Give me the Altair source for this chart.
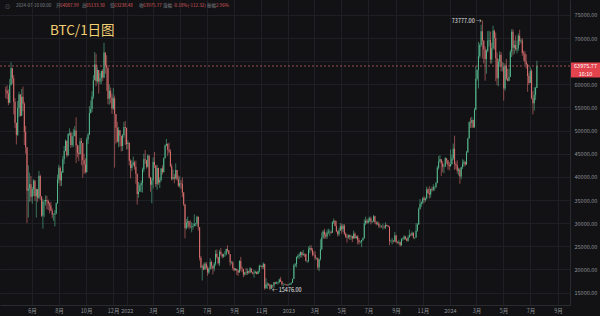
import altair as alt
import pandas as pd
import numpy as np

# ---- data (3-day candles, prices in thousands of USDT) ----
start_date = "2021-04-01"
first_open_k = 58.8
close_k = [
    58.7, 58.0, 56.0, 59.8, 63.5, 61.3, 56.2, 51.7, 49.1, 54.9,
    57.8, 53.2, 57.3, 55.8, 49.7, 46.4, 37.0, 37.5, 38.4, 35.7,
    37.3, 39.2, 35.8, 37.3, 35.5, 40.2, 35.8, 31.6, 34.7, 34.7,
    35.0, 34.8, 34.2, 33.8, 32.7, 31.8, 31.8, 32.1, 34.3, 39.5,
    42.0, 39.2, 40.9, 43.8, 45.6, 47.8, 44.7, 49.3, 49.5, 46.9,
    48.8, 48.8, 50.0, 46.8, 45.2, 44.9, 47.7, 47.3, 43.6, 42.7,
    41.0, 48.1, 49.1, 53.8, 54.7, 57.4, 60.9, 64.3, 60.7, 63.1,
    60.6, 61.3, 62.9, 61.5, 66.9, 64.2, 63.6, 56.9, 58.6, 57.2,
    54.8, 57.0, 53.6, 50.6, 47.6, 50.1, 48.9, 46.7, 49.0, 50.8,
    50.6, 47.1, 47.3, 43.5, 41.9, 42.7, 43.1, 42.2, 40.7, 36.3,
    36.8, 38.2, 38.7, 41.6, 43.8, 43.6, 42.2, 44.6, 40.0, 38.3,
    39.2, 43.2, 42.5, 38.4, 41.9, 38.8, 39.3, 41.8, 41.0, 44.0,
    46.8, 47.1, 45.8, 45.5, 42.3, 39.5, 39.9, 39.7, 41.5, 39.5,
    38.1, 38.6, 38.5, 36.6, 34.1, 28.9, 30.1, 30.4, 29.2, 29.1,
    29.2, 29.4, 29.8, 29.9, 31.4, 29.1, 22.5, 20.4, 20.6, 20.0,
    21.2, 20.3, 19.3, 20.2, 21.6, 20.8, 20.2, 21.2, 23.4, 22.7,
    21.3, 23.8, 23.3, 22.8, 23.2, 23.2, 24.4, 24.1, 23.3, 21.5,
    21.5, 20.3, 19.8, 20.1, 19.8, 19.3, 21.8, 20.2, 20.1, 18.9,
    19.3, 19.2, 19.6, 19.3, 20.2, 19.4, 19.1, 19.2, 19.5, 19.0,
    19.6, 20.8, 20.8, 20.5, 21.2, 15.9, 16.8, 16.9, 16.7, 15.8,
    16.6, 16.5, 17.2, 16.9, 17.1, 17.2, 17.8, 17.4, 16.8, 16.8,
    16.8, 16.7, 16.6, 16.7, 16.9, 17.1, 17.9, 20.9, 21.1, 22.7,
    22.9, 23.1, 23.7, 23.1, 23.4, 23.3, 21.8, 21.8, 24.3, 24.6,
    24.2, 23.2, 23.1, 22.4, 22.4, 20.4, 22.2, 24.4, 26.9, 28.2,
    27.5, 27.1, 28.0, 28.2, 28.2, 27.9, 30.2, 30.5, 29.4, 28.2,
    27.6, 28.4, 29.3, 28.7, 29.5, 27.7, 27.0, 26.9, 27.4, 27.1,
    27.2, 26.7, 27.7, 26.8, 27.1, 26.3, 25.9, 25.9, 26.3, 26.8,
    29.9, 30.5, 30.1, 30.6, 31.0, 30.3, 30.4, 31.5, 30.2, 29.8,
    29.9, 29.3, 29.3, 29.2, 29.2, 29.1, 29.6, 29.4, 29.2, 26.1,
    26.1, 26.2, 26.1, 27.3, 25.9, 25.8, 25.9, 25.2, 26.5, 26.5,
    27.1, 26.6, 26.2, 26.9, 27.5, 27.4, 27.9, 26.9, 26.9, 28.4,
    29.7, 33.1, 34.2, 34.5, 35.4, 35.0, 35.4, 37.3, 36.5, 36.2,
    37.4, 37.2, 37.8, 37.8, 38.7, 42.0, 43.3, 43.8, 42.9, 42.2,
    42.3, 44.0, 43.6, 42.6, 42.3, 42.8, 44.0, 46.1, 42.8, 42.5,
    41.3, 41.6, 40.1, 42.1, 42.9, 43.2, 42.7, 45.3, 48.3, 51.8,
    51.7, 52.3, 50.7, 54.5, 61.2, 63.1, 66.1, 68.5, 71.5, 69.5,
    67.6, 65.5, 67.2, 69.5, 69.6, 65.4, 67.8, 71.6, 70.0, 65.7,
    61.3, 64.9, 66.4, 63.8, 63.8, 59.1, 64.0, 61.2, 60.8, 61.6,
    67.0, 71.4, 67.9, 68.5, 67.6, 67.8, 70.5, 69.3, 69.5, 66.8,
    66.6, 64.9, 64.3, 61.8, 60.3, 62.9, 57.0, 55.9, 57.7, 59.2,
    63.97577,
]
high_k = [
    59.5, 59.8, 58.9, 61.2, 64.8, 63.6, 62.0, 57.0, 51.2, 56.4,
    58.4, 57.9, 59.0, 59.5, 56.2, 51.0, 45.8, 42.5, 40.9, 40.2,
    37.8, 39.5, 39.0, 37.5, 37.4, 41.3, 40.5, 35.7, 35.3, 35.0,
    36.0, 35.9, 35.1, 34.5, 34.6, 33.2, 32.1, 32.8, 34.5, 40.5,
    42.6, 42.3, 41.3, 44.5, 46.7, 48.1, 47.2, 49.4, 50.5, 49.8,
    49.6, 50.4, 51.0, 52.9, 47.0, 46.8, 48.4, 48.4, 44.0, 45.0,
    44.0, 48.5, 49.5, 55.3, 56.5, 58.5, 62.0, 67.0, 66.6, 63.7,
    62.4, 62.4, 63.0, 63.3, 69.0, 65.6, 66.3, 61.0, 60.0, 59.3,
    58.0, 59.2, 57.6, 53.4, 51.9, 50.8, 49.5, 48.4, 49.3, 51.9,
    52.1, 48.5, 47.9, 47.5, 43.8, 43.6, 44.4, 43.5, 43.5, 39.0,
    38.9, 38.6, 39.2, 42.0, 45.0, 45.8, 43.0, 44.9, 44.0, 39.5,
    39.8, 44.2, 45.4, 42.5, 42.6, 42.0, 39.9, 41.9, 42.5, 44.2,
    47.0, 48.2, 47.3, 47.4, 46.0, 42.8, 41.6, 40.6, 42.9, 41.0,
    40.3, 40.1, 39.3, 39.9, 36.7, 32.6, 30.9, 31.4, 30.5, 30.6,
    30.2, 30.0, 31.9, 30.0, 31.6, 31.0, 26.9, 22.9, 21.0, 21.3,
    21.6, 21.6, 20.8, 20.4, 22.4, 21.9, 20.5, 21.6, 24.2, 24.3,
    22.7, 24.2, 24.6, 23.4, 23.4, 23.9, 24.5, 25.2, 24.2, 23.3,
    21.8, 21.8, 20.4, 20.3, 20.2, 19.5, 22.0, 22.7, 20.6, 19.7,
    19.5, 20.3, 20.2, 19.7, 20.5, 20.0, 19.5, 19.9, 19.7, 19.4,
    19.7, 21.0, 21.0, 20.8, 21.5, 21.0, 18.1, 17.2, 17.0, 16.8,
    16.8, 16.6, 17.3, 17.2, 17.4, 17.3, 18.0, 18.4, 17.5, 17.0,
    16.9, 16.9, 16.8, 16.8, 17.0, 17.2, 18.0, 21.2, 21.4, 22.8,
    23.3, 23.6, 23.9, 23.8, 24.2, 23.4, 23.4, 22.0, 24.9, 25.2,
    25.2, 24.6, 23.9, 23.9, 22.6, 22.6, 22.3, 26.5, 28.0, 28.5,
    28.8, 28.0, 28.6, 28.8, 28.6, 28.2, 30.4, 31.0, 30.6, 30.5,
    28.4, 28.9, 30.0, 29.9, 29.8, 29.8, 28.0, 27.6, 27.6, 27.5,
    27.5, 27.2, 28.4, 28.0, 27.3, 27.4, 26.8, 26.2, 26.4, 26.9,
    30.8, 31.4, 30.9, 31.2, 31.4, 31.4, 30.5, 31.8, 31.6, 30.4,
    30.4, 30.3, 29.7, 29.5, 29.9, 29.5, 30.2, 29.7, 29.6, 29.3,
    26.4, 26.8, 26.3, 28.1, 27.5, 26.1, 26.4, 26.0, 26.8, 26.9,
    27.4, 27.2, 26.8, 27.3, 28.6, 27.8, 28.2, 28.0, 27.0, 30.0,
    30.0, 33.4, 35.2, 34.7, 35.6, 35.9, 35.6, 37.9, 37.5, 38.0,
    37.5, 37.9, 38.4, 38.0, 38.9, 42.4, 44.5, 44.7, 43.8, 43.4,
    42.8, 44.3, 44.0, 43.6, 43.2, 45.9, 44.8, 47.2, 48.9, 43.3,
    43.6, 42.0, 41.9, 42.2, 43.8, 43.7, 43.4, 45.6, 48.5, 52.0,
    52.8, 53.0, 52.4, 54.9, 64.0, 63.2, 69.2, 68.9, 72.9, 73.777,
    69.0, 68.2, 67.6, 71.5, 71.6, 71.4, 69.0, 72.7, 71.8, 71.2,
    66.9, 65.5, 67.2, 67.0, 64.8, 64.7, 64.5, 65.5, 63.4, 63.4,
    67.4, 71.9, 71.9, 69.5, 70.6, 69.5, 71.0, 71.8, 69.9, 70.0,
    67.3, 67.2, 66.5, 64.5, 62.4, 63.8, 63.3, 58.5, 59.4, 59.5,
    65.1,
]
low_k = [
    57.0, 56.8, 55.5, 55.9, 59.8, 60.1, 53.5, 50.6, 47.0, 48.8,
    53.0, 53.0, 53.3, 54.2, 46.9, 45.0, 30.0, 31.2, 34.6, 34.7,
    34.2, 35.9, 34.8, 31.2, 34.6, 35.2, 35.0, 31.3, 28.8, 31.3,
    33.8, 33.0, 32.8, 32.1, 32.6, 31.1, 30.5, 29.3, 31.9, 34.2,
    38.6, 38.0, 38.0, 40.9, 42.8, 45.5, 44.2, 44.5, 48.9, 46.3,
    46.4, 46.5, 49.3, 43.0, 44.2, 43.4, 44.9, 42.5, 39.8, 40.7,
    40.7, 41.4, 47.1, 49.0, 53.7, 54.0, 56.8, 61.3, 59.6, 60.2,
    58.0, 60.0, 60.1, 60.7, 61.3, 62.3, 58.6, 55.7, 55.6, 55.9,
    53.6, 54.5, 42.0, 47.2, 47.4, 46.4, 46.6, 45.5, 45.6, 48.5,
    46.9, 45.9, 46.0, 42.5, 39.7, 41.3, 42.3, 41.6, 38.5, 34.0,
    35.5, 36.9, 36.7, 36.6, 41.0, 42.8, 41.8, 42.0, 39.6, 36.8,
    34.3, 37.5, 41.9, 37.8, 37.2, 38.3, 37.6, 39.0, 40.5, 42.0,
    44.4, 46.6, 44.5, 45.1, 42.1, 39.2, 39.7, 38.6, 39.4, 39.2,
    37.8, 37.6, 37.4, 35.6, 33.7, 26.7, 28.6, 29.0, 28.7, 28.9,
    28.0, 28.6, 29.3, 29.3, 29.4, 28.4, 21.9, 20.2, 17.6, 19.8,
    20.8, 19.9, 18.6, 19.0, 19.9, 20.1, 18.9, 19.6, 20.8, 22.3,
    21.0, 20.7, 23.0, 22.4, 22.5, 22.7, 23.0, 23.7, 23.2, 20.8,
    21.1, 19.8, 19.6, 19.7, 18.8, 18.6, 19.4, 19.6, 19.4, 18.3,
    18.6, 18.8, 18.8, 19.0, 19.1, 19.3, 18.9, 18.2, 19.1, 18.9,
    19.2, 19.3, 20.5, 20.1, 20.1, 15.6, 15.8, 15.8, 16.4, 15.476,
    15.8, 16.0, 16.0, 16.8, 16.9, 16.7, 17.0, 17.3, 16.5, 16.3,
    16.6, 16.5, 16.4, 16.5, 16.6, 16.7, 17.1, 17.9, 20.5, 20.4,
    22.3, 22.3, 22.6, 22.5, 22.9, 22.7, 21.7, 21.4, 21.5, 23.5,
    23.9, 22.8, 23.0, 22.0, 22.1, 19.9, 19.6, 21.9, 24.1, 26.6,
    26.6, 26.6, 26.6, 27.6, 27.2, 27.7, 27.9, 29.8, 29.3, 28.0,
    27.1, 27.2, 28.3, 27.7, 28.1, 27.4, 26.8, 25.8, 26.6, 26.4,
    26.4, 25.9, 26.6, 26.6, 26.6, 25.4, 25.4, 25.6, 24.8, 26.2,
    26.6, 29.6, 29.9, 29.9, 30.2, 29.7, 30.0, 30.3, 29.9, 29.5,
    29.6, 28.9, 29.0, 29.0, 28.6, 28.8, 28.7, 29.3, 29.1, 25.2,
    25.8, 25.4, 25.8, 25.9, 25.6, 25.6, 25.4, 24.9, 25.1, 26.2,
    26.4, 26.4, 26.0, 26.0, 26.9, 27.2, 27.2, 26.6, 26.5, 26.8,
    28.1, 29.6, 32.9, 33.5, 34.1, 34.3, 34.6, 35.1, 36.3, 35.3,
    35.5, 36.8, 36.9, 37.0, 37.5, 38.6, 41.6, 43.1, 40.2, 41.0,
    40.8, 42.1, 42.8, 41.6, 41.4, 42.2, 42.6, 43.6, 41.5, 41.7,
    40.7, 40.3, 38.5, 39.5, 41.7, 42.2, 42.3, 42.6, 45.2, 48.4,
    50.6, 50.6, 50.6, 50.9, 54.4, 60.8, 59.1, 65.6, 68.1, 65.6,
    64.5, 60.8, 62.3, 66.9, 68.2, 64.5, 64.5, 67.5, 67.5, 60.7,
    59.8, 59.6, 63.8, 62.8, 62.8, 56.5, 58.6, 60.9, 60.6, 60.7,
    61.6, 65.9, 66.3, 66.6, 67.2, 66.7, 67.2, 68.5, 68.9, 66.1,
    65.1, 64.2, 63.4, 58.4, 59.9, 60.4, 56.8, 53.5, 54.3, 56.6,
    59.5,
]
y_ticks = [15000, 20000, 25000, 30000, 35000, 40000, 45000, 50000, 55000, 60000, 65000, 70000, 75000]
x_tick_months = [(2021, 6), (2021, 8), (2021, 10), (2021, 12),
                 (2022, 1), (2022, 3), (2022, 5), (2022, 7), (2022, 9), (2022, 11),
                 (2023, 1), (2023, 3), (2023, 5), (2023, 7), (2023, 9), (2023, 11),
                 (2024, 1), (2024, 3), (2024, 5), (2024, 7), (2024, 9)]
header_date = "2024-07-10 00:00"
header_open, header_high, header_low, header_close = "64087.99", "65133.30", "63238.48", "63975.77"
header_change = "-0.18%(-112.32)"
header_amp = "2.96%"
countdown = "16:10"
title_text = "BTC/1日图"

# ---- build table ----
n = len(close_k)
dates = pd.date_range(start_date, periods=n, freq="3D") + pd.Timedelta(hours=36)
close = np.array(close_k) * 1000
open_ = np.concatenate([[first_open_k * 1000], close[:-1]])
high = np.maximum(np.array(high_k) * 1000, np.maximum(open_, close))
low = np.minimum(np.array(low_k) * 1000, np.minimum(open_, close))
df = pd.DataFrame({"date": dates, "open": open_, "high": high, "low": low, "close": close})
df["dir"] = np.where(df["close"] >= df["open"], "up", "down")

ih, il = int(df["high"].idxmax()), int(df["low"].idxmin())
hi_df = pd.DataFrame({"date": [df["date"][ih]], "v": [df["high"][ih]], "t": [f"{df['high'][ih]:.2f} →"]})
lo_df = pd.DataFrame({"date": [df["date"][il]], "v": [df["low"][il]], "t": [f"← {df['low'][il]:.2f}"]})
last_price = float(df["close"].iloc[-1])
price_df = pd.DataFrame({"price": [last_price], "t": [f"{last_price:.2f}"], "c": [countdown]})

# ---- style ----
BG = "#121215"
GRID = "#1f2025"
AXIS_C = "#2a2b31"
LBL = "#8e9197"
UP = "#55b98e"
DOWN = "#de7070"
BOX = "#e2434d"
FONT = "Noto Sans CJK SC"

W, H = 570, 305
yscale = alt.Scale(domain=[12300, 78240], nice=False, zero=False)
xscale = alt.Scale(domain=[alt.DateTime(year=2021, month=3, date=31, hours=20),
                           alt.DateTime(year=2024, month=9, date=17)])
x_values = [alt.DateTime(year=y, month=m, date=1) for y, m in x_tick_months]

xaxis = alt.Axis(values=x_values, title=None, grid=True, gridColor=GRID, ticks=False,
                 domainColor=AXIS_C, labelColor=LBL, labelFont=FONT, labelFontSize=5.5,
                 labelPadding=3, labelOverlap=False, labelFlush=False,
                 labelExpr="month(datum.value) == 0 ? '' + year(datum.value) : (month(datum.value) + 1) + '月'")
yaxis = alt.Axis(values=y_ticks, format=".2f", orient="right", title=None, grid=True,
                 gridColor=GRID, ticks=False, domainColor=AXIS_C, labelColor=LBL,
                 labelFont=FONT, labelFontSize=5.5, labelPadding=4, zindex=0,
                 labelOverlap=False,
                 labelExpr="datum.value == 65000 ? '' : datum.label")

base = alt.Chart(df)
color = alt.Color("dir:N", scale=alt.Scale(domain=["up", "down"], range=[UP, DOWN]), legend=None)

wicks = base.mark_rule(strokeWidth=0.6).encode(
    x=alt.X("date:T", scale=xscale, axis=xaxis),
    y=alt.Y("low:Q", scale=yscale, axis=yaxis),
    y2="high:Q",
    color=color,
)
bodies = base.mark_bar(width=1.0).encode(
    x=alt.X("date:T", scale=xscale, axis=xaxis),
    y=alt.Y("open:Q", scale=yscale, axis=yaxis),
    y2="close:Q",
    color=color,
)

pline = alt.Chart(price_df).mark_rule(strokeDash=[2, 2], color="#d76a6f", strokeWidth=0.7).encode(
    y=alt.Y("price:Q", scale=yscale, axis=yaxis))
pbox = alt.Chart(price_df).mark_rule(strokeWidth=15, color=BOX, yOffset=4, strokeCap="butt").encode(
    y=alt.Y("price:Q", scale=yscale, axis=yaxis), x=alt.value(571), x2=alt.value(600))
ptext = alt.Chart(price_df).mark_text(color="white", fontSize=5.5, font=FONT, align="center",
                                      baseline="middle", yOffset=0.5).encode(
    y=alt.Y("price:Q", scale=yscale, axis=yaxis), x=alt.value(585.5), text="t:N")
ctext = alt.Chart(price_df).mark_text(color="white", fontSize=5.5, font=FONT, align="center",
                                      baseline="middle", yOffset=8).encode(
    y=alt.Y("price:Q", scale=yscale, axis=yaxis), x=alt.value(585.5), text="c:N")

hi_text = alt.Chart(hi_df).mark_text(color="#e8e8e8", fontSize=5.5, font=FONT, align="right",
                                     baseline="middle", dx=-1).encode(
    x=alt.X("date:T", scale=xscale, axis=xaxis), y=alt.Y("v:Q", scale=yscale, axis=yaxis), text="t:N")
lo_text = alt.Chart(lo_df).mark_text(color="#e8e8e8", fontSize=5.5, font=FONT, align="left",
                                     baseline="middle", dx=2).encode(
    x=alt.X("date:T", scale=xscale, axis=xaxis), y=alt.Y("v:Q", scale=yscale, axis=yaxis), text="t:N")


def label(txt, x, y, color, size, weight="normal"):
    return alt.Chart(pd.DataFrame({"t": [txt]})).mark_text(
        align="left", baseline="middle", color=color, fontSize=size, font=FONT, fontWeight=weight
    ).encode(x=alt.value(x), y=alt.value(y), text="t:N")


HR = "#d9595d"
HG = "#7d8086"
header = [
    label("⊙", 5, 6, HG, 5),
    label(header_date, 16, 6, HG, 4.5),
    label("开", 56, 6, HG, 4.5), label(header_open, 60, 6, HR, 4.5),
    label("高", 82, 6, HG, 4.5), label(header_high, 86, 6, HR, 4.5),
    label("低", 110, 6, HG, 4.5), label(header_low, 114, 6, HR, 4.5),
    label("收", 139, 6, HG, 4.5), label(header_close, 143, 6, HR, 4.5),
    label("涨幅", 163, 6, HG, 4.5), label(header_change, 173, 6, HR, 4.5),
    label("振幅", 207, 6, HG, 4.5), label(header_amp, 216, 6, HR, 4.5),
    label(title_text, 50, 31, "#f2cf72", 13.5),
]

chart = alt.layer(wicks, bodies, pline, pbox, ptext, ctext, hi_text, lo_text, *header).properties(
    width=W, height=H, background=BG,
    padding={"left": 0, "top": 0, "right": 30, "bottom": 11},
    autosize=alt.AutoSizeParams(type="none"),
).configure_view(stroke=None).configure_axis(labelOverlap=False)

chart.save("out.html", embed_options={"renderer": "svg", "actions": False})
